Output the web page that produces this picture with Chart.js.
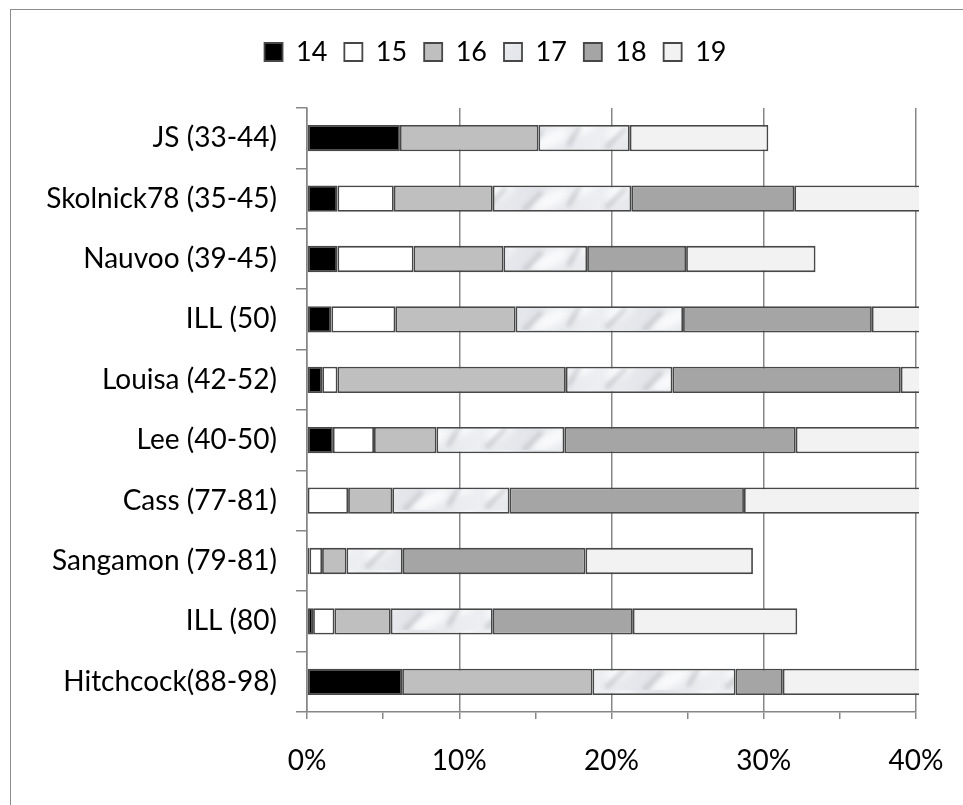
<!DOCTYPE html>
<html>
<head>
<meta charset="utf-8">
<title>Age composition by site</title>
<script src="https://cdn.jsdelivr.net/npm/chart.js@4.4.1/dist/chart.umd.min.js"></script>
<style>
    html, body { margin: 0; padding: 0; background: #ffffff; overflow: hidden; }
    #wrap { position: relative; width: 963px; height: 805px; }
    /* outer frame of the chart object, only top/left edge fall inside the page */
    #frame {
        position: absolute; left: 10px; top: 9px; width: 1200px; height: 1200px;
        border-left: 1.5px solid #8c8c8c; border-top: 1.5px solid #8c8c8c;
    }
    #chart { position: absolute; left: 0; top: 0; }
</style>
</head>
<body>
<div id="wrap">
    <div id="frame"></div>
    <canvas id="chart" width="963" height="805"></canvas>
</div>
<script>
// 사이트 (위에서 아래 순서)
const sites = [
    'JS (33-44)',
    'Skolnick78 (35-45)',
    'Nauvoo (39-45)',
    'ILL (50)',
    'Louisa (42-52)',
    'Lee (40-50)',
    'Cass (77-81)',
    'Sangamon (79-81)',
    'ILL (80)',
    'Hitchcock(88-98)'
];

// 연령별 비율 (%)
const age14 = [6.1, 2.0, 2.0, 1.6, 1.0, 1.7, 0, 0.16, 0.4, 6.25];
const age15 = [0, 3.7, 5.0, 4.2, 1.0, 2.7, 2.7, 0.83, 1.4, 0];
const age16 = [9.1, 6.5, 5.9, 7.9, 15.0, 4.1, 2.9, 1.6, 3.7, 12.5];
const age17 = [6.0, 9.1, 5.5, 11.0, 7.0, 8.4, 7.7, 3.7, 6.7, 9.4];
const age18 = [0, 10.7, 6.5, 12.4, 15.0, 15.2, 15.4, 12.0, 9.2, 3.1];
const age19 = [9.1, 10.5, 8.5, 8.0, 6.0, 12.0, 14.0, 11.0, 10.8, 12.0];

const seriesNames = ['14', '15', '16', '17', '18', '19'];

// x축 눈금 (라벨은 10% 단위만)
const xTicks = [0, 5, 10, 15, 20, 25, 30, 35, 40];

const FONT = 'Lato, "Open Sans", sans-serif';
const AXIS_GRAY = '#868686';
const EDGE = '#474747';

// 17세 막대용 대리석 무늬 패턴
function marblePattern() {
    const c = document.createElement('canvas');
    c.width = 120;
    c.height = 30;
    const g = c.getContext('2d');
    const grad = g.createLinearGradient(0, 0, 120, 30);
    grad.addColorStop(0, '#eceef1');
    grad.addColorStop(0.45, '#e2e4e9');
    grad.addColorStop(1, '#edeff2');
    g.fillStyle = grad;
    g.fillRect(0, 0, 120, 30);
    g.filter = 'blur(4px)';
    g.fillStyle = 'rgba(255, 255, 255, 0.8)';
    [[20, 10, 16, 7], [70, 20, 22, 8], [104, 8, 12, 6]].forEach(b => {
        g.beginPath();
        g.ellipse(b[0], b[1], b[2], b[3], -0.5, 0, Math.PI * 2);
        g.fill();
    });
    g.filter = 'blur(2px)';
    g.strokeStyle = 'rgba(150, 152, 160, 0.4)';
    g.lineWidth = 4;
    [[6, 28, 26, 8], [44, 30, 62, 12], [88, 26, 100, 6]].forEach(s => {
        g.beginPath();
        g.moveTo(s[0], s[1]);
        g.lineTo(s[2], s[3]);
        g.stroke();
    });
    return g.createPattern(c, 'repeat');
}

const fills = ['#000000', '#ffffff', '#bfbfbf', marblePattern(), '#a5a5a5', '#f2f2f2'];
const values = [age14, age15, age16, age17, age18, age19];

const datasets = values.map((data, i) => ({
    label: seriesNames[i],
    data: data,
    backgroundColor: fills[i],
    borderColor: EDGE,
    borderWidth: 1.8,
    borderSkipped: false,
    barPercentage: 0.435,
    categoryPercentage: 1,
    clip: { left: 5, top: 5, right: 3, bottom: 5 }
}));

// 범례와 플롯 사이 여백
const legendGap = {
    id: 'legendGap',
    beforeInit(chart) {
        Chart.layouts.addBox(chart, {
            position: 'top',
            weight: 500,
            fullSize: true,
            options: {},
            isHorizontal() { return true; },
            update(maxWidth) { this.width = maxWidth; this.height = 32.5; },
            draw() {}
        });
    }
};

new Chart(document.getElementById('chart'), {
    type: 'bar',
    data: { labels: sites, datasets: datasets },
    plugins: [legendGap],
    options: {
        responsive: false,
        animation: false,
        indexAxis: 'y',
        layout: { padding: { left: 28, right: 0, top: 21.5, bottom: 0 } },
        plugins: {
            legend: {
                position: 'top',
                align: 'center',
                labels: {
                    color: '#000000',
                    font: { family: FONT, size: 27 },
                    boxWidth: 18,
                    boxHeight: 18,
                    padding: 17
                }
            },
            tooltip: { enabled: false }
        },
        scales: {
            x: {
                stacked: true,
                min: 0,
                max: 40,
                afterBuildTicks(scale) {
                    scale.ticks = xTicks.map(v => ({ value: v }));
                },
                afterFit(scale) {
                    scale.height = 93;
                    scale.paddingLeft = 0;
                    scale.paddingRight = 47;
                },
                ticks: {
                    autoSkip: false,
                    maxRotation: 0,
                    padding: 25,
                    color: '#000000',
                    font: { family: FONT, size: 28 },
                    callback: v => (v % 10 === 0 ? v + '%' : '')
                },
                grid: {
                    color: ctx => (ctx.tick && ctx.tick.value % 10 === 0 ? AXIS_GRAY : 'rgba(0,0,0,0)'),
                    tickColor: AXIS_GRAY,
                    lineWidth: 1.5,
                    tickLength: 7
                },
                border: { color: AXIS_GRAY, width: 1.5 }
            },
            y: {
                stacked: true,
                afterFit(scale) {
                    scale.width = 279;
                },
                ticks: {
                    padding: 19,
                    color: '#000000',
                    font: { family: FONT, size: 28 }
                },
                grid: {
                    offset: true,
                    drawOnChartArea: false,
                    color: AXIS_GRAY,
                    lineWidth: 1.5,
                    tickLength: 11
                },
                border: { color: AXIS_GRAY, width: 1.5 }
            }
        }
    }
});
</script>
</body>
</html>
